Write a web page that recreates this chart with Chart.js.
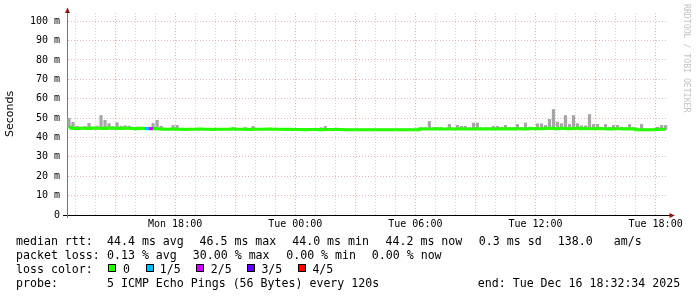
<!DOCTYPE html>
<html><head><meta charset="utf-8">
<script src="https://cdn.jsdelivr.net/npm/chart.js@4.4.0/dist/chart.umd.min.js"></script>
<style>
html,body{margin:0;padding:0;background:#fff;}
#wrap{position:relative;width:697px;height:297px;overflow:hidden;background:#fff;}
#c{position:absolute;left:0;top:0;}
.t{position:absolute;font-family:"DejaVu Sans Mono",monospace;font-size:11.6px;line-height:14px;white-space:pre;color:#000;}
.box{position:absolute;width:6px;height:6px;border:1px solid #000;}
#wm{position:absolute;left:682px;top:4px;font-family:"DejaVu Sans Mono",monospace;font-size:8.2px;color:#c4c4c4;writing-mode:vertical-rl;white-space:pre;line-height:10px;}
</style></head>
<body>
<div id="wrap">
<canvas id="c" width="697" height="297"></canvas>
<div id="wm">RRDTOOL / TOBI OETIKER</div>
<div id="legend"></div>
</div>
<script>
// ---- data (hours since Mon 00:00, one sample per 12 minutes) ----
const START_HOUR = 12.7;
const STEP_HOUR = 0.2;
const medianRtt = [
 45.3,44.8,44.6,44.7,44.8,44.6,44.9,44.7,44.8,44.6,44.9,44.7,44.8,44.6,44.7,44.8,44.6,44.5,44.7,44.6,44.5,44.6,44.5,44.3,
 44.2,44.2,44.3,44.2,44.2,44.1,44.2,44.2,44.2,44.3,44.2,44.2,44.1,44.2,44.2,44.2,44.2,44.3,44.2,44.2,44.2,44.1,44.2,44.2,44.2,44.2,44.3,44.2,44.2,44.2,44.1,44.2,
 44.1,44.1,44.1,44.0,44.1,44.1,44.1,44.0,44.1,44.1,44.1,44.1,44.1,44.0,44.0,44.0,44.0,44.0,44.0,44.0,44.0,44.0,44.0,44.0,44.0,44.0,44.0,44.0,44.0,44.0,44.0,44.0,44.3,
 44.4,44.4,44.4,44.5,44.4,44.4,44.5,44.4,44.4,44.5,44.4,44.4,44.4,44.5,44.4,44.4,44.5,44.4,44.4,44.5,44.4,44.5,44.4,44.5,44.5,44.4,44.5,44.6,44.5,44.5,44.6,44.7,44.6,44.5,44.7,44.6,44.5,44.6,44.7,44.5,44.6,44.5,44.5,44.6,44.5,44.5,44.4,44.5,44.5,44.5,44.4,44.5,44.4,
 44.0,44.0,44.0,44.0,44.0,44.1,44.2,44.2
];
const smokeTop = [
 50.0,48.0,46.0,45.5,45.8,47.4,45.5,46.0,51.5,49.0,47.3,45.8,47.8,46.0,46.2,46.0,45.5,45.6,45.3,45.3,45.5,47.4,49.0,46.0,45.0,44.9,46.4,46.4,44.9,
 44.8,44.8,44.8,44.8,44.8,44.8,44.8,44.8,44.8,44.8,44.8,44.8,45.3,44.8,44.8,45.3,44.8,45.9,44.8,44.8,44.8,44.8,44.8,44.8,44.8,44.8,44.8,
 44.7,44.7,44.7,44.6,44.7,44.7,44.7,45.2,45.9,44.7,44.6,45.0,44.6,44.6,44.6,44.6,44.6,44.6,44.6,44.6,44.6,44.6,44.6,44.6,44.6,44.6,44.6,44.6,44.6,44.6,44.6,44.6,45.3,
 45.3,48.4,45.3,45.3,45.3,44.9,46.9,45.0,46.4,45.9,45.9,45.3,47.6,47.6,45.3,45.3,45.0,45.9,45.9,45.5,46.4,45.3,45.3,46.9,45.3,47.6,45.5,45.3,47.2,47.2,46.4,49.5,54.6,48.1,47.3,51.5,46.9,51.5,47.3,46.2,46.2,52.0,46.9,46.9,45.5,46.9,45.5,46.4,46.4,45.5,45.3,46.9,45.3,
 45.0,46.9,44.6,44.6,44.6,45.5,46.4,46.4
];
const lossIndex = [
 0,0,0,0,0,0,0,0,0,0,0,0,0,0,0,0,0,0,0,0,1,2,0,0,
 0,0,0,0,0,0,0,0,0,0,0,0,0,0,0,0,0,0,0,0,0,0,0,0,0,0,0,0,0,0,0,0,
 0,0,0,0,0,0,0,0,0,0,0,0,0,0,0,0,0,0,0,0,0,0,0,0,0,0,0,0,0,0,0,0,0,
 0,0,0,0,0,0,0,0,0,0,0,0,0,0,0,0,0,0,0,0,0,0,0,0,0,0,0,0,0,0,0,0,0,0,0,0,0,0,0,0,0,0,0,0,0,0,0,0,0,0,0,0,0,
 0,0,0,0,0,0,0,0
];
const lossColors = ['#26ff00','#00b8ff','#d000ff','#6000ff','#ff0000'];
const lossLabels = ['0','1/5','2/5','3/5','4/5'];
const xTickHours = [13,14,15,16,17,18,19,20,21,22,23,24,25,26,27,28,29,30,31,32,33,34,35,36,37,38,39,40,41,42];
const xTickLabels = {18:'Mon 18:00',24:'Tue 00:00',30:'Tue 06:00',36:'Tue 12:00',42:'Tue 18:00'};
const yTicks = [0,5,10,15,20,25,30,35,40,45,50,55,60,65,70,75,80,85,90,95,100];
const yTickLabels = {0:'0',10:'10 m',20:'20 m',30:'30 m',40:'40 m',50:'50 m',60:'60 m',70:'70 m',80:'80 m',90:'90 m',100:'100 m'};

const times = medianRtt.map((_, i) => +(START_HOUR + STEP_HOUR * i).toFixed(3));

// ---- legend text (HTML) ----
const legendRows = [
 {top:234, items:[[16,'median rtt:'],[107,'44.4 ms avg'],[199.5,'46.5 ms max'],[292.2,'44.0 ms min'],[385.5,'44.2 ms now'],[478.8,'0.3 ms sd'],[557.8,'138.0'],[613.8,'am/s']]},
 {top:248, items:[[16,'packet loss:'],[107,'0.13 % avg'],[192.8,'30.00 % max'],[286.2,'0.00 % min'],[371.8,'0.00 % now']]},
 {top:262, items:[[16,'loss color:']]},
 {top:276, items:[[16,'probe:'],[107,'5 ICMP Echo Pings (56 Bytes) every 120s'],[477.8,'end: Tue Dec 16 18:32:34 2025']]}
];
const boxX = [108,145.5,196,247,297.5];
const boxLabelX = [123,159.7,210.7,261.4,312.4];
const lg = document.getElementById('legend');
legendRows.forEach(r => r.items.forEach(([x, s]) => {
  const d = document.createElement('div'); d.className = 't';
  d.style.left = x + 'px'; d.style.top = r.top + 'px'; d.textContent = s; lg.appendChild(d);
}));
lossLabels.forEach((lab, i) => {
  const b = document.createElement('div'); b.className = 'box';
  b.style.left = boxX[i] + 'px'; b.style.top = '264px'; b.style.background = lossColors[i]; lg.appendChild(b);
  const d = document.createElement('div'); d.className = 't';
  d.style.left = boxLabelX[i] + 'px'; d.style.top = '262px'; d.textContent = lab; lg.appendChild(d);
});

// ---- chart ----
const MAJOR = 'rgba(220,110,110,0.5)';
const MINOR = 'rgba(165,165,165,0.5)';
const arrows = {
  id: 'arrows',
  afterDraw(chart) {
    const {ctx, chartArea: a} = chart;
    ctx.save();
    ctx.strokeStyle = '#777'; ctx.lineWidth = 1;
    ctx.beginPath(); ctx.moveTo(a.left + 0.5, a.top); ctx.lineTo(a.left + 0.5, 10); ctx.stroke();
    ctx.beginPath(); ctx.moveTo(a.left + 0.5, a.bottom); ctx.lineTo(a.left + 0.5, a.bottom + 3); ctx.stroke();
    ctx.strokeStyle = '#000';
    ctx.beginPath(); ctx.moveTo(a.right, a.bottom + 0.5); ctx.lineTo(a.right + 3, a.bottom + 0.5); ctx.stroke();
    ctx.beginPath(); ctx.moveTo(a.left - 4, a.bottom + 0.5); ctx.lineTo(a.left, a.bottom + 0.5); ctx.stroke();
    ctx.fillStyle = '#8b1a1a';
    ctx.beginPath(); ctx.moveTo(a.left + 0.5, 7.5); ctx.lineTo(a.left - 2, 13); ctx.lineTo(a.left + 3, 13); ctx.closePath(); ctx.fill();
    ctx.beginPath(); ctx.moveTo(a.right + 7, a.bottom + 0.5); ctx.lineTo(a.right + 1.5, a.bottom - 2); ctx.lineTo(a.right + 1.5, a.bottom + 3); ctx.closePath(); ctx.fill();
    ctx.restore();
  }
};

new Chart(document.getElementById('c'), {
  type: 'line',
  data: {
    datasets: [
      {
        type: 'line',
        label: 'median',
        data: times.map((t, i) => ({x: t, y: medianRtt[i]})),
        borderColor: lossColors[0],
        borderWidth: 3,
        pointRadius: 0,
        stepped: 'middle',
        fill: false,
        order: 1,
        segment: { borderColor: c => lossColors[lossIndex[c.p1DataIndex]] }
      },
      {
        type: 'bar',
        label: 'smoke',
        data: times.map((t, i) => ({x: t, y: [medianRtt[i] - 0.4, smokeTop[i]]})),
        backgroundColor: '#a6a6a6',
        borderWidth: 0,
        borderSkipped: false,
        barPercentage: 0.8,
        categoryPercentage: 1,
        grouped: false,
        order: 2
      }
    ]
  },
  options: {
    responsive: false,
    animation: false,
    devicePixelRatio: 1,
    layout: { padding: { top: 13, right: 29, bottom: 62, left: 0 } },
    plugins: { legend: { display: false }, tooltip: { enabled: false } },
    scales: {
      x: {
        type: 'linear',
        min: 12.6,
        max: 42.62,
        offset: false,
        afterBuildTicks: s => { s.ticks = xTickHours.map(v => ({value: v})); },
        afterFit: s => { s.height = 20; },
        grid: {
          offset: false,
          drawTicks: false,
          lineWidth: 1,
          color: c => (c.tick && c.tick.value % 3 === 0) ? MAJOR : MINOR
        },
        border: { display: true, color: '#000', width: 1, dash: [1, 2] },
        ticks: {
          autoSkip: false, maxRotation: 0, padding: 3, color: '#000',
          font: { family: 'DejaVu Sans Mono', size: 10 },
          callback: v => xTickLabels[v] || ''
        }
      },
      y: {
        type: 'linear',
        min: 0,
        max: 104.2,
        afterBuildTicks: s => { s.ticks = yTicks.map(v => ({value: v})); },
        afterFit: s => { s.width = 67; },
        grid: {
          drawTicks: false,
          lineWidth: 1,
          color: c => (c.tick && c.tick.value % 10 === 0) ? MAJOR : MINOR
        },
        border: { display: true, color: '#777', width: 1, dash: [1, 2] },
        title: { display: true, text: 'Seconds', color: '#000', font: { family: 'DejaVu Sans', size: 11 }, padding: { top: 4, bottom: 0 } },
        ticks: {
          padding: 7, color: '#000',
          font: { family: 'DejaVu Sans Mono', size: 10 },
          callback: v => (yTickLabels[v] !== undefined ? yTickLabels[v] : '')
        }
      }
    }
  },
  plugins: [arrows]
});
</script>
</body></html>
